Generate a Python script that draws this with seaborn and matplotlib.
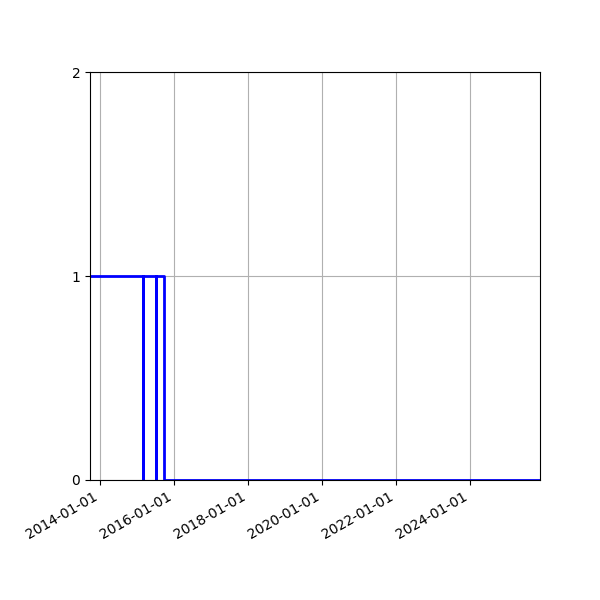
import pandas as pd
import matplotlib
matplotlib.use('Agg')
import matplotlib.pyplot as plt
import matplotlib.dates as mdates
import seaborn as sns


dates = ['2013-09-21', '2015-02-25', '2015-02-26', '2015-07-04',
         '2015-07-05', '2015-09-18', '2025-11-21']
state = [1, 0, 1, 0, 1, 0, 0]

df = pd.DataFrame({'date': pd.to_datetime(dates), 'state': state})


fig, ax = plt.subplots(figsize=(6, 6), dpi=100)
sns.lineplot(data=df, x='date', y='state', drawstyle='steps-post',
             color='blue', linewidth=2, ax=ax)

ax.set_xlim(df['date'].min(), df['date'].max())
ax.set_ylim(0, 2)
ax.set_yticks([0, 1, 2])
ax.xaxis.set_major_locator(mdates.YearLocator(2))
ax.xaxis.set_major_formatter(mdates.DateFormatter('%Y-%m-%d'))
ax.set_xlabel('')
ax.set_ylabel('')
ax.grid(True)
fig.autofmt_xdate()
fig.subplots_adjust(left=0.15, right=0.9, top=0.88, bottom=0.2)
fig.savefig('out.png')
